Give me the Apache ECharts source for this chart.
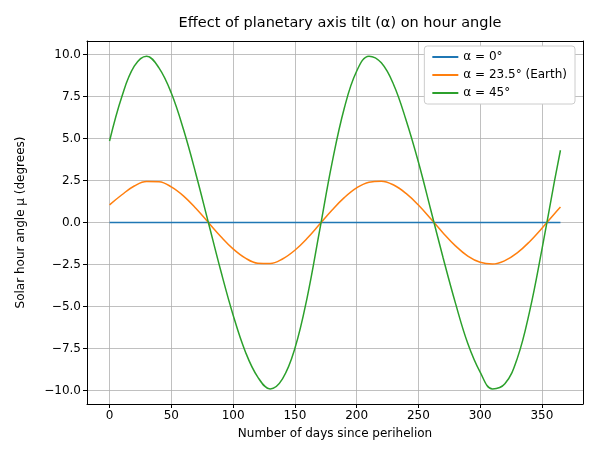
<!DOCTYPE html>
<html style="height: 100%">
<head>
<meta charset="utf-8">
<script src="https://cdn.jsdelivr.net/npm/echarts@6/dist/echarts.min.js"></script>
</head>
<body style="height: 100%; margin: 0; background: #fff;">
<div id="container" style="width:591px;height:457px;"></div>
<script>
// values, every 10 days + day 365
var days = [0,10,20,30,40,50,60,70,80,90,100,110,120,130,140,150,160,170,180,190,200,210,220,230,240,250,260,270,280,290,300,310,320,330,340,350,360,365];
var tilt0 = days.map(function () { return 0; });
var tilt23 = [1.05,1.65,2.17,2.44,2.42,2.12,1.57,0.83,0,-0.83,-1.57,-2.12,-2.42,-2.44,-2.17,-1.65,-0.94,-0.11,0.73,1.48,2.06,2.40,2.46,2.23,1.73,1.04,0.22,-0.62,-1.39,-2.0,-2.37,-2.47,-2.27,-1.81,-1.14,-0.34,0.51,0.92];
var tilt45 = [4.85,7.5,9.3,9.9,9.2,7.7,5.5,2.86,0,-2.86,-5.5,-7.7,-9.2,-9.9,-9.3,-7.5,-4.45,-0.5,3.5,6.8,9.0,9.9,9.5,8.2,6.1,3.6,0.76,-2.1,-4.8,-7.2,-8.9,-9.9,-9.6,-8.1,-5.3,-1.6,2.4,4.3];
var xTicks = [0,50,100,150,200,250,300,350];
var yTicks = [-10,-7.5,-5,-2.5,0,2.5,5,7.5,10];

var chart = echarts.init(document.getElementById('container'));
var font = 'DejaVu Sans';

function pairs(ys) {
    return days.map(function (d, i) { return [d, ys[i]]; });
}

var gridLines = xTicks.map(function (v) { return { xAxis: v }; })
    .concat(yTicks.map(function (v) { return { yAxis: v }; }));

var frame = {
    axisLine: { show: true, onZero: false, lineStyle: { color: '#000' } },
    axisTick: { show: false }, axisLabel: { show: false }, splitLine: { show: false }
};

var option = {
    animation: false,
    textStyle: { fontFamily: font },
    title: {
        text: 'Effect of planetary axis tilt (α) on hour angle',
        left: 335, top: 11, textAlign: 'center',
        textStyle: { fontFamily: font, fontSize: 14.5, fontWeight: 'normal', color: '#000' }
    },
    legend: {
        orient: 'vertical', right: 16, top: 46,
        backgroundColor: '#fff', borderColor: '#ccc', borderWidth: 1, borderRadius: 3,
        padding: [5, 8], itemGap: 6, itemWidth: 26, itemHeight: 2,
        icon: 'rect',
        textStyle: { fontFamily: font, fontSize: 12, color: '#000' },
        data: ['α = 0°', 'α = 23.5° (Earth)', 'α = 45°']
    },
    grid: { left: 87, right: 8, top: 41, bottom: 53 },
    xAxis: [{
        type: 'value', min: -18.25, max: 383.25,
        name: 'Number of days since perihelion', nameLocation: 'middle', nameGap: 24,
        nameTextStyle: { fontFamily: font, fontSize: 12, color: '#000' },
        axisLine: { onZero: false, lineStyle: { color: '#000' } },
        axisTick: { show: true, customValues: xTicks, length: 4, inside: false, lineStyle: { color: '#000' } },
        axisLabel: { customValues: xTicks, color: '#000', fontSize: 12, margin: 6 },
        splitLine: { show: false }
    }, Object.assign({ type: 'value', position: 'top', min: -18.25, max: 383.25 }, frame)],
    yAxis: [{
        type: 'value', min: -10.8, max: 10.8,
        name: 'Solar hour angle μ (degrees)', nameLocation: 'middle', nameGap: 60, nameRotate: 90,
        nameTextStyle: { fontFamily: font, fontSize: 12, color: '#000' },
        axisLine: { show: true, onZero: false, lineStyle: { color: '#000' } },
        axisTick: { show: true, customValues: yTicks, length: 4, lineStyle: { color: '#000' } },
        axisLabel: {
            customValues: yTicks, color: '#000', fontSize: 12, margin: 6,
            formatter: function (v) { return (v < 0 ? '−' : '') + Math.abs(v).toFixed(1); }
        },
        splitLine: { show: false }
    }, Object.assign({ type: 'value', position: 'right', min: -10.8, max: 10.8 }, frame)],
    series: [{
        name: 'α = 0°', type: 'line', data: pairs(tilt0), showSymbol: false,
        lineStyle: { width: 1.5, color: '#1f77b4' }, itemStyle: { color: '#1f77b4' },
        markLine: {
            silent: true, symbol: 'none', label: { show: false },
            lineStyle: { color: '#b0b0b0', type: 'solid', width: 0.8 },
            data: gridLines, z: 0
        }
    }, {
        name: 'α = 23.5° (Earth)', type: 'line', data: pairs(tilt23), showSymbol: false, smooth: 0.4,
        lineStyle: { width: 1.5, color: '#ff7f0e' }, itemStyle: { color: '#ff7f0e' }
    }, {
        name: 'α = 45°', type: 'line', data: pairs(tilt45), showSymbol: false, smooth: 0.4,
        lineStyle: { width: 1.5, color: '#2ca02c' }, itemStyle: { color: '#2ca02c' }
    }]
};
chart.setOption(option);
</script>
</body>
</html>
